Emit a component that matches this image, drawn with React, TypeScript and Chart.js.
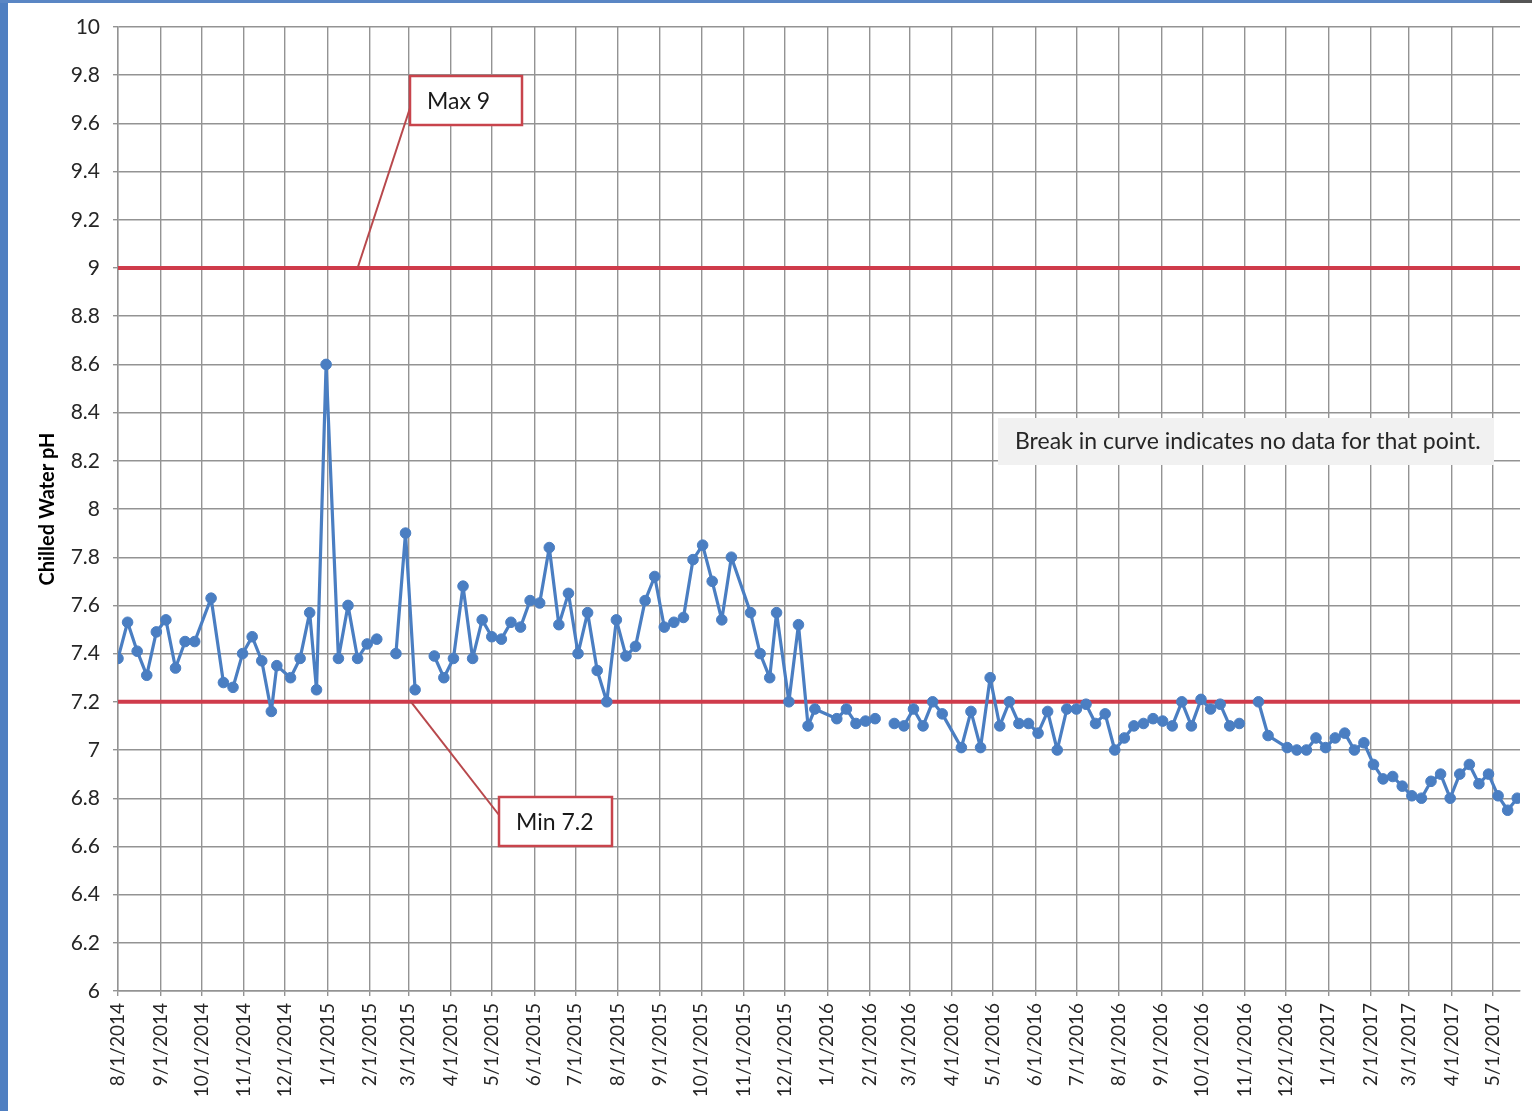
import React, { useEffect, useRef } from 'react';
import { Chart, registerables } from 'chart.js';

Chart.register(...registerables);

// Sample dates (M/D/YYYY) and chilled-water pH readings; null = no data (break in curve)
const sampleDates: string[] = [
  '8/1/2014', '8/8/2014', '8/15/2014', '8/22/2014', '8/29/2014', '9/5/2014', '9/12/2014', '9/19/2014', '9/26/2014',
  '10/8/2014', '10/17/2014', '10/24/2014', '10/31/2014', '11/7/2014', '11/14/2014', '11/21/2014', '11/25/2014',
  '12/5/2014', '12/12/2014', '12/19/2014', '12/24/2014', '12/31/2014',
  '1/9/2015', '1/16/2015', '1/23/2015', '1/30/2015', '2/6/2015', '2/13/2015', '2/20/2015', '2/27/2015', '3/6/2015',
  '3/13/2015', '3/20/2015', '3/27/2015', '4/3/2015', '4/10/2015', '4/17/2015', '4/24/2015', '5/1/2015', '5/8/2015',
  '5/15/2015', '5/22/2015', '5/29/2015', '6/5/2015', '6/12/2015', '6/19/2015', '6/26/2015', '7/3/2015', '7/10/2015',
  '7/17/2015', '7/24/2015', '7/31/2015', '8/7/2015', '8/14/2015', '8/21/2015', '8/28/2015', '9/4/2015', '9/11/2015',
  '9/18/2015', '9/25/2015', '10/2/2015', '10/9/2015', '10/16/2015', '10/23/2015', '11/6/2015', '11/13/2015',
  '11/20/2015', '11/25/2015', '12/4/2015', '12/11/2015', '12/18/2015', '12/23/2015',
  '1/8/2016', '1/15/2016', '1/22/2016', '1/29/2016', '2/5/2016', '2/12/2016', '2/19/2016', '2/26/2016', '3/4/2016',
  '3/11/2016', '3/18/2016', '3/25/2016', '4/8/2016', '4/15/2016', '4/22/2016', '4/29/2016', '5/6/2016', '5/13/2016',
  '5/20/2016', '5/27/2016', '6/3/2016', '6/10/2016', '6/17/2016', '6/24/2016', '7/1/2016', '7/8/2016', '7/15/2016',
  '7/22/2016', '7/29/2016', '8/5/2016', '8/12/2016', '8/19/2016', '8/26/2016', '9/2/2016', '9/9/2016', '9/16/2016',
  '9/23/2016', '9/30/2016', '10/7/2016', '10/14/2016', '10/21/2016', '10/28/2016', '11/4/2016', '11/11/2016',
  '11/18/2016', '12/2/2016', '12/9/2016', '12/16/2016', '12/23/2016', '12/30/2016',
  '1/6/2017', '1/13/2017', '1/20/2017', '1/27/2017', '2/3/2017', '2/10/2017', '2/17/2017', '2/24/2017', '3/3/2017',
  '3/10/2017', '3/17/2017', '3/24/2017', '3/31/2017', '4/7/2017', '4/14/2017', '4/21/2017', '4/28/2017', '5/5/2017',
  '5/12/2017', '5/19/2017',
];

const phValues: (number | null)[] = [
  7.38, 7.53, 7.41, 7.31, 7.49, 7.54, 7.34, 7.45, 7.45,
  7.63, 7.28, 7.26, 7.40, 7.47, 7.37, 7.16, 7.35,
  7.30, 7.38, 7.57, 7.25, 8.60,
  7.38, 7.60, 7.38, 7.44, 7.46, null, 7.40, 7.90, 7.25,
  null, 7.39, 7.30, 7.38, 7.68, 7.38, 7.54, 7.47, 7.46,
  7.53, 7.51, 7.62, 7.61, 7.84, 7.52, 7.65, 7.40, 7.57,
  7.33, 7.20, 7.54, 7.39, 7.43, 7.62, 7.72, 7.51, 7.53,
  7.55, 7.79, 7.85, 7.70, 7.54, 7.80, 7.57, 7.40,
  7.30, 7.57, 7.20, 7.52, 7.10, 7.17,
  7.13, 7.17, 7.11, 7.12, 7.13, null, 7.11, 7.10, 7.17,
  7.10, 7.20, 7.15, 7.01, 7.16, 7.01, 7.30, 7.10, 7.20,
  7.11, 7.11, 7.07, 7.16, 7.00, 7.17, 7.17, 7.19, 7.11,
  7.15, 7.00, 7.05, 7.10, 7.11, 7.13, 7.12, 7.10, 7.20,
  7.10, 7.21, 7.17, 7.19, 7.10, 7.11, null, 7.20,
  7.06, 7.01, 7.00, 7.00, 7.05, 7.01,
  7.05, 7.07, 7.00, 7.03, 6.94, 6.88, 6.89, 6.85, 6.81,
  6.80, 6.87, 6.90, 6.80, 6.90, 6.94, 6.86, 6.90, 6.81,
  6.75, 6.80,
];

const xTickLabels: string[] = [
  '8/1/2014', '9/1/2014', '10/1/2014', '11/1/2014', '12/1/2014',
  '1/1/2015', '2/1/2015', '3/1/2015', '4/1/2015', '5/1/2015', '6/1/2015', '7/1/2015', '8/1/2015', '9/1/2015',
  '10/1/2015', '11/1/2015', '12/1/2015',
  '1/1/2016', '2/1/2016', '3/1/2016', '4/1/2016', '5/1/2016', '6/1/2016', '7/1/2016', '8/1/2016', '9/1/2016',
  '10/1/2016', '11/1/2016', '12/1/2016',
  '1/1/2017', '2/1/2017', '3/1/2017', '4/1/2017', '5/1/2017',
];

const yTickValues: number[] = [6, 6.2, 6.4, 6.6, 6.8, 7, 7.2, 7.4, 7.6, 7.8, 8, 8.2, 8.4, 8.6, 8.8, 9, 9.2, 9.4, 9.6, 9.8, 10];

const maxLimit = 9;
const minLimit = 7.2;
const axisStart = '8/1/2014';
const axisEnd = '5/21/2017';
const yAxisTitle = 'Chilled Water pH';
const maxLabel = 'Max 9';
const minLabel = 'Min 7.2';
const maxAnchorDate = '1/23/2015';
const minAnchorDate = '3/3/2015';
const noteText = 'Break in curve indicates no data for that point.';

const toDay = (s: string): number => {
  const [m, d, y] = s.split('/').map(Number);
  return Date.UTC(y, m - 1, d) / 86400000;
};

const FONT = 'Lato, "Open Sans", sans-serif';
const RED = '#cf3b4b';
const BOX_RED = '#c8444c';
const LEADER = '#b8484c';
const BLUE = '#4a7ec2';
const GRID = '#939393';

const calloutPlugin = {
  id: 'callouts',
  afterDatasetsDraw(chart: any) {
    const { ctx } = chart;
    const xs = chart.scales.x;
    const ys = chart.scales.y;
    ctx.save();

    const callout = (ax: number, ay: number, box: { l: number; t: number; w: number; h: number }, endY: number, text: string) => {
      ctx.strokeStyle = LEADER;
      ctx.lineWidth = 2;
      ctx.beginPath();
      ctx.moveTo(ax, ay);
      ctx.lineTo(box.l, endY);
      ctx.stroke();
      ctx.fillStyle = '#ffffff';
      ctx.fillRect(box.l, box.t, box.w, box.h);
      ctx.strokeStyle = BOX_RED;
      ctx.lineWidth = 2.5;
      ctx.strokeRect(box.l, box.t, box.w, box.h);
      ctx.fillStyle = '#1a1a1a';
      ctx.font = `23px ${FONT}`;
      ctx.textBaseline = 'middle';
      ctx.textAlign = 'left';
      ctx.fillText(text, box.l + 17, box.t + box.h / 2 + 1);
    };

    callout(xs.getPixelForValue(toDay(maxAnchorDate)), ys.getPixelForValue(maxLimit), { l: 410, t: 76, w: 112, h: 49 }, 108, maxLabel);
    callout(xs.getPixelForValue(toDay(minAnchorDate)), ys.getPixelForValue(minLimit), { l: 499, t: 797, w: 113, h: 49 }, 815, minLabel);

    // note box
    ctx.fillStyle = '#f1f1f1';
    ctx.fillRect(998, 418, 496, 47);
    ctx.fillStyle = '#262626';
    ctx.font = `23px ${FONT}`;
    ctx.textBaseline = 'middle';
    ctx.textAlign = 'left';
    ctx.fillText(noteText, 1015, 442);
    ctx.restore();
  },
};

export default function App() {
  const canvasRef = useRef<HTMLCanvasElement | null>(null);

  useEffect(() => {
    if (!canvasRef.current) return;
    const xMin = toDay(axisStart);
    const xMax = toDay(axisEnd);
    const xTickValues = xTickLabels.map(toDay);
    const labelByDay = new Map<number, string>();
    xTickLabels.forEach((l) => labelByDay.set(toDay(l), l));

    const series = sampleDates.map((d, i) => ({ x: toDay(d), y: phValues[i] }));

    const chart = new Chart(canvasRef.current, {
      type: 'line',
      data: {
        datasets: [
          {
            label: 'pH',
            data: series as any,
            borderColor: BLUE,
            backgroundColor: BLUE,
            borderWidth: 3.2,
            borderJoinStyle: 'round',
            pointRadius: 5.3,
            pointBorderWidth: 1,
            pointBackgroundColor: BLUE,
            pointBorderColor: BLUE,
            spanGaps: false,
            tension: 0,
          },
          {
            label: 'Max',
            data: [{ x: xMin, y: maxLimit }, { x: xMax, y: maxLimit }],
            borderColor: RED,
            borderWidth: 4,
            pointRadius: 0,
          },
          {
            label: 'Min',
            data: [{ x: xMin, y: minLimit }, { x: xMax, y: minLimit }],
            borderColor: RED,
            borderWidth: 4,
            pointRadius: 0,
          },
        ],
      },
      options: {
        animation: false,
        responsive: false,
        maintainAspectRatio: false,
        layout: { padding: { left: 0, top: 27, right: 12, bottom: 0 } },
        plugins: { legend: { display: false }, tooltip: { enabled: false } },
        scales: {
          x: {
            type: 'linear',
            min: xMin,
            max: xMax,
            afterBuildTicks: (s: any) => {
              s.ticks = xTickValues.map((v) => ({ value: v }));
            },
            afterFit: (s: any) => {
              s.height = 120;
            },
            grid: { color: GRID, lineWidth: 1.4, tickLength: 5, drawTicks: true },
            border: { color: GRID, width: 1.4 },
            ticks: {
              autoSkip: false,
              maxRotation: 90,
              minRotation: 90,
              padding: 7,
              color: '#262626',
              font: { family: FONT, size: 19 },
              callback: (v: any) => labelByDay.get(Number(v)) ?? '',
            },
          },
          y: {
            min: 6,
            max: 10,
            afterBuildTicks: (s: any) => {
              s.ticks = yTickValues.map((v) => ({ value: v }));
            },
            afterFit: (s: any) => {
              s.width = 118;
            },
            grid: { color: GRID, lineWidth: 1.4, tickLength: 5, drawTicks: true },
            border: { color: GRID, width: 1.4 },
            ticks: {
              padding: 13,
              color: '#262626',
              font: { family: FONT, size: 21 },
              callback: (v: any) => String(Number(Number(v).toFixed(1))),
            },
            title: {
              display: true,
              text: yAxisTitle,
              color: '#000000',
              font: { family: FONT, size: 20, weight: 'bold' },
              padding: { top: 36, bottom: 0 },
            },
          },
        },
      },
      plugins: [calloutPlugin],
    } as any);

    return () => chart.destroy();
  }, []);

  return (
    <div style={{ position: 'absolute', left: 0, top: 0, width: 1532, height: 1111, background: '#ffffff', overflow: 'hidden' }}>
      <canvas ref={canvasRef} width={1532} height={1111} style={{ position: 'absolute', left: 0, top: 0, width: 1532, height: 1111 }} />
      <div style={{ position: 'absolute', left: 0, top: 0, width: 8, height: 1111, background: '#4f7fc1' }} />
      <div style={{ position: 'absolute', left: 0, top: 0, width: 1500, height: 3, background: '#5a86c4' }} />
      <div style={{ position: 'absolute', left: 1500, top: 0, width: 32, height: 3, background: '#555555' }} />
    </div>
  );
}
